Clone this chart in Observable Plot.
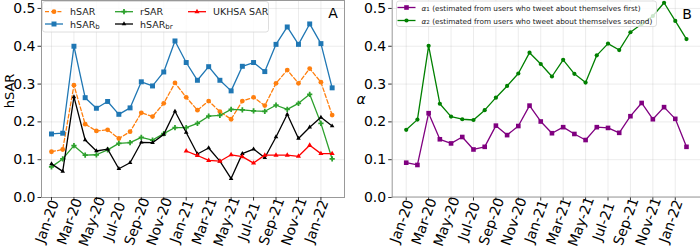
<!DOCTYPE html>
<html><head><meta charset="utf-8">
<script src="https://cdn.jsdelivr.net/npm/d3@7"></script>
<script src="https://cdn.jsdelivr.net/npm/@observablehq/plot@0.6"></script>
<style>
body{margin:0;background:#fff;font-family:"DejaVu Sans",sans-serif;}
#wrap{display:flex;width:700px;height:248px;overflow:hidden}
#wrap svg{display:block}
</style></head><body><div id="wrap"><div id="a"></div><div id="b"></div></div>
<script>
const months = ["Jan-20","Feb-20","Mar-20","Apr-20","May-20","Jun-20","Jul-20","Aug-20","Sep-20","Oct-20","Nov-20","Dec-20",
  "Jan-21","Feb-21","Mar-21","Apr-21","May-21","Jun-21","Jul-21","Aug-21","Sep-21","Oct-21","Nov-21","Dec-21","Jan-22","Feb-22"];
const tickLabels = ["Jan-20","Mar-20","May-20","Jul-20","Sep-20","Nov-20","Jan-21","Mar-21","May-21","Jul-21","Sep-21","Nov-21","Jan-22"];
const yTicks = [0, 0.1, 0.2, 0.3, 0.4, 0.5];

const hSAR   = [0.121,0.127,0.297,0.194,0.176,0.179,0.156,0.174,0.224,0.214,0.249,0.303,0.265,0.231,0.255,0.227,0.207,0.255,0.265,0.243,0.302,0.337,0.302,0.341,0.305,0.218];
const hSARb  = [0.168,0.170,0.400,0.264,0.236,0.254,0.220,0.237,0.306,0.295,0.332,0.414,0.357,0.310,0.346,0.310,0.282,0.347,0.357,0.333,0.405,0.451,0.405,0.459,0.407,0.290];
const rSAR   = [0.081,0.102,0.137,0.112,0.113,0.126,0.143,0.145,0.159,0.152,0.169,0.185,0.185,0.196,0.215,0.217,0.233,0.232,0.229,0.228,0.244,0.233,0.249,0.273,0.196,0.102];
const hSARbr = [0.089,0.069,0.266,0.152,0.123,0.128,0.076,0.092,0.146,0.145,0.167,0.228,0.172,0.115,0.131,0.096,0.050,0.116,0.128,0.105,0.160,0.220,0.156,0.186,0.212,0.189];
const ukhsaMonths = months.slice(12);
const ukhsa  = [0.123,0.111,0.098,0.096,0.113,0.108,0.091,0.112,0.112,0.112,0.109,0.138,0.116,0.116];
const alpha1 = [0.092,0.086,0.223,0.154,0.143,0.160,0.127,0.134,0.190,0.165,0.189,0.243,0.201,0.170,0.186,0.168,0.152,0.186,0.184,0.171,0.215,0.250,0.207,0.239,0.208,0.134];
const alpha2 = [0.179,0.206,0.401,0.248,0.214,0.207,0.205,0.231,0.264,0.295,0.328,0.383,0.353,0.320,0.364,0.327,0.304,0.376,0.407,0.390,0.437,0.459,0.480,0.515,0.467,0.419];

const FONT = "DejaVu Sans";
const tickIdx = tickLabels.map(t => months.indexOf(t));
const toRows = (ms, vals) => ms.map((m, k) => ({i: months.indexOf(m), v: vals[k]}));

const seriesA = [
  {name: "hSAR", sub: "", vals: toRows(months, hSAR), color: "#ff7f0e", symbol: "circle", r: 2.4, dash: "4,2.2"},
  {name: "hSAR", sub: "b", vals: toRows(months, hSARb), color: "#1f77b4", symbol: "square", r: 2.8},
  {name: "rSAR", sub: "", vals: toRows(months, rSAR), color: "#2ca02c", symbol: "cross", r: 2.2},
  {name: "hSAR", sub: "br", vals: toRows(months, hSARbr), color: "#000000", symbol: "triangle", r: 1.7},
  {name: "UKHSA SAR", sub: "", vals: toRows(ukhsaMonths, ukhsa), color: "#ff0000", symbol: "triangle", r: 1.9}
];
const seriesB = [
  {name: "α", sub: "1", rest: " (estimated from users who tweet about themselves first)", vals: toRows(months, alpha1), color: "#800080", symbol: "square", r: 2.6},
  {name: "α", sub: "2", rest: " (estimated from users who tweet about themselves second)", vals: toRows(months, alpha2), color: "#008000", symbol: "circle", r: 2.1}
];

function seriesMarks(series) {
  const m = [];
  for (const s of series) {
    m.push(Plot.line(s.vals, {x: "i", y: "v", stroke: s.color, strokeWidth: 1.3, strokeDasharray: s.dash}));
    m.push(Plot.dot(s.vals, {x: "i", y: "v", fill: s.color, symbol: s.symbol, r: s.r, stroke: "none"}));
  }
  return m;
}

function makePanel(series, opts) {
  return Plot.plot({
    width: 350, height: 248,
    marginLeft: opts.ml, marginRight: opts.mr, marginTop: 0, marginBottom: 51,
    x: {domain: opts.xd},
    y: {domain: [0, 0.521]},
    style: {fontFamily: FONT, fontSize: "14px", color: "#000", background: "white", overflow: "hidden"},
    marks: [
      Plot.gridX(tickIdx, {stroke: "#b0b0b0", strokeOpacity: 0.3, strokeWidth: 0.8}),
      Plot.gridY(yTicks, {stroke: "#b0b0b0", strokeOpacity: 0.3, strokeWidth: 0.8}),
      ...seriesMarks(series),
      opts.frame,
      Plot.axisY({ticks: yTicks, tickFormat: d3.format(".1f"), tickSize: 3.5, tickPadding: 2.5, label: null, fontSize: 14, stroke: "#333"}),
      Plot.axisX({ticks: tickIdx, tickFormat: () => "", tickSize: 3.5, label: null, stroke: "#333"}),
      Plot.text(tickIdx, {x: d => d, text: (d, k) => tickLabels[k], frameAnchor: "bottom", dy: 25.5, rotate: -70, fontSize: 14, fill: "#000"})
    ]
  });
}

function sym(name, r) {
  const map = {circle: d3.symbolCircle, square: d3.symbolSquare, cross: d3.symbolCross, triangle: d3.symbolTriangle};
  return d3.symbol(map[name], r * r * Math.PI)();
}

// Panel A
const pa = makePanel(seriesA, {ml: 41, mr: 6, xd: [-0.89, 26.1], frame: Plot.frame({stroke: "#999", strokeWidth: 1})});
document.getElementById("a").append(pa);
{
  const svg = d3.select(pa);
  svg.append("text").attr("x", 9.5).attr("y", 91).attr("transform", "rotate(-90 9.5 91)")
    .attr("text-anchor", "middle").attr("dominant-baseline", "central")
    .attr("font-family", FONT).attr("font-size", 13).text("hSAR");
  svg.append("text").attr("x", 333).attr("y", 13).attr("text-anchor", "middle").attr("dominant-baseline", "central")
    .attr("font-family", FONT).attr("font-size", 14).text("A");
  const g = svg.append("g").attr("font-family", FONT).attr("font-size", 9.5).attr("text-anchor", "start");
  g.append("rect").attr("x", 42.5).attr("y", 1.5).attr("width", 226).attr("height", 30.5).attr("rx", 2.5)
    .attr("fill", "white").attr("fill-opacity", 0.8).attr("stroke", "#d6d6d6").attr("stroke-width", 0.8);
  const pos = [[45, 11.7], [45, 24], [115, 11.7], [115, 24], [188, 11.7]];
  seriesA.forEach((s, k) => {
    const [x, y] = pos[k];
    g.append("line").attr("x1", x).attr("x2", x + 18).attr("y1", y).attr("y2", y)
      .attr("stroke", s.color).attr("stroke-width", 1.3).attr("stroke-dasharray", s.dash || null);
    g.append("path").attr("d", sym(s.symbol, s.r)).attr("transform", `translate(${x + 9},${y})`).attr("fill", s.color);
    const t = g.append("text").attr("x", x + 25).attr("y", y).attr("dominant-baseline", "central").attr("text-anchor", "start").attr("fill", "#222").text(s.name);
    if (s.sub) t.append("tspan").attr("font-size", 7).attr("dy", 2.5).text(s.sub);
  });
}

// Panel B
const pb = makePanel(seriesB, {ml: 41.7, mr: 0, xd: [-1.25, 26.25],
  frame: Plot.frame({anchor: "left", stroke: "#999", strokeWidth: 1})});
document.getElementById("b").append(pb);
{
  const svg = d3.select(pb);
  svg.append("line").attr("x1", 41.7).attr("x2", 350).attr("y1", 197).attr("y2", 197).attr("stroke", "#999");
  svg.append("text").attr("x", 11).attr("y", 99).attr("text-anchor", "middle").attr("dominant-baseline", "central")
    .attr("font-family", FONT).attr("font-style", "italic").attr("font-size", 14).text("α");
  svg.append("text").attr("x", 337).attr("y", 14).attr("text-anchor", "middle").attr("dominant-baseline", "central")
    .attr("font-family", FONT).attr("font-size", 14).text("B");
  const g = svg.append("g").attr("font-family", FONT).attr("font-size", 7.3).attr("text-anchor", "start");
  g.append("rect").attr("x", 46.5).attr("y", 1).attr("width", 260).attr("height", 25.5).attr("rx", 2.5)
    .attr("fill", "white").attr("fill-opacity", 0.8).attr("stroke", "#d6d6d6").attr("stroke-width", 0.8);
  const pos = [[47.5, 7.5], [47.5, 20.5]];
  seriesB.forEach((s, k) => {
    const [x, y] = pos[k];
    g.append("line").attr("x1", x).attr("x2", x + 18).attr("y1", y).attr("y2", y)
      .attr("stroke", s.color).attr("stroke-width", 1.3);
    g.append("path").attr("d", sym(s.symbol, s.r)).attr("transform", `translate(${x + 9},${y})`).attr("fill", s.color);
    const t = g.append("text").attr("x", x + 24).attr("y", y).attr("dominant-baseline", "central").attr("text-anchor", "start").attr("fill", "#222");
    t.append("tspan").attr("font-style", "italic").text(s.name);
    t.append("tspan").attr("font-size", 5.5).attr("dy", 1.8).text(s.sub);
    t.append("tspan").attr("dy", -1.8).text(s.rest);
  });
}
</script></body></html>
